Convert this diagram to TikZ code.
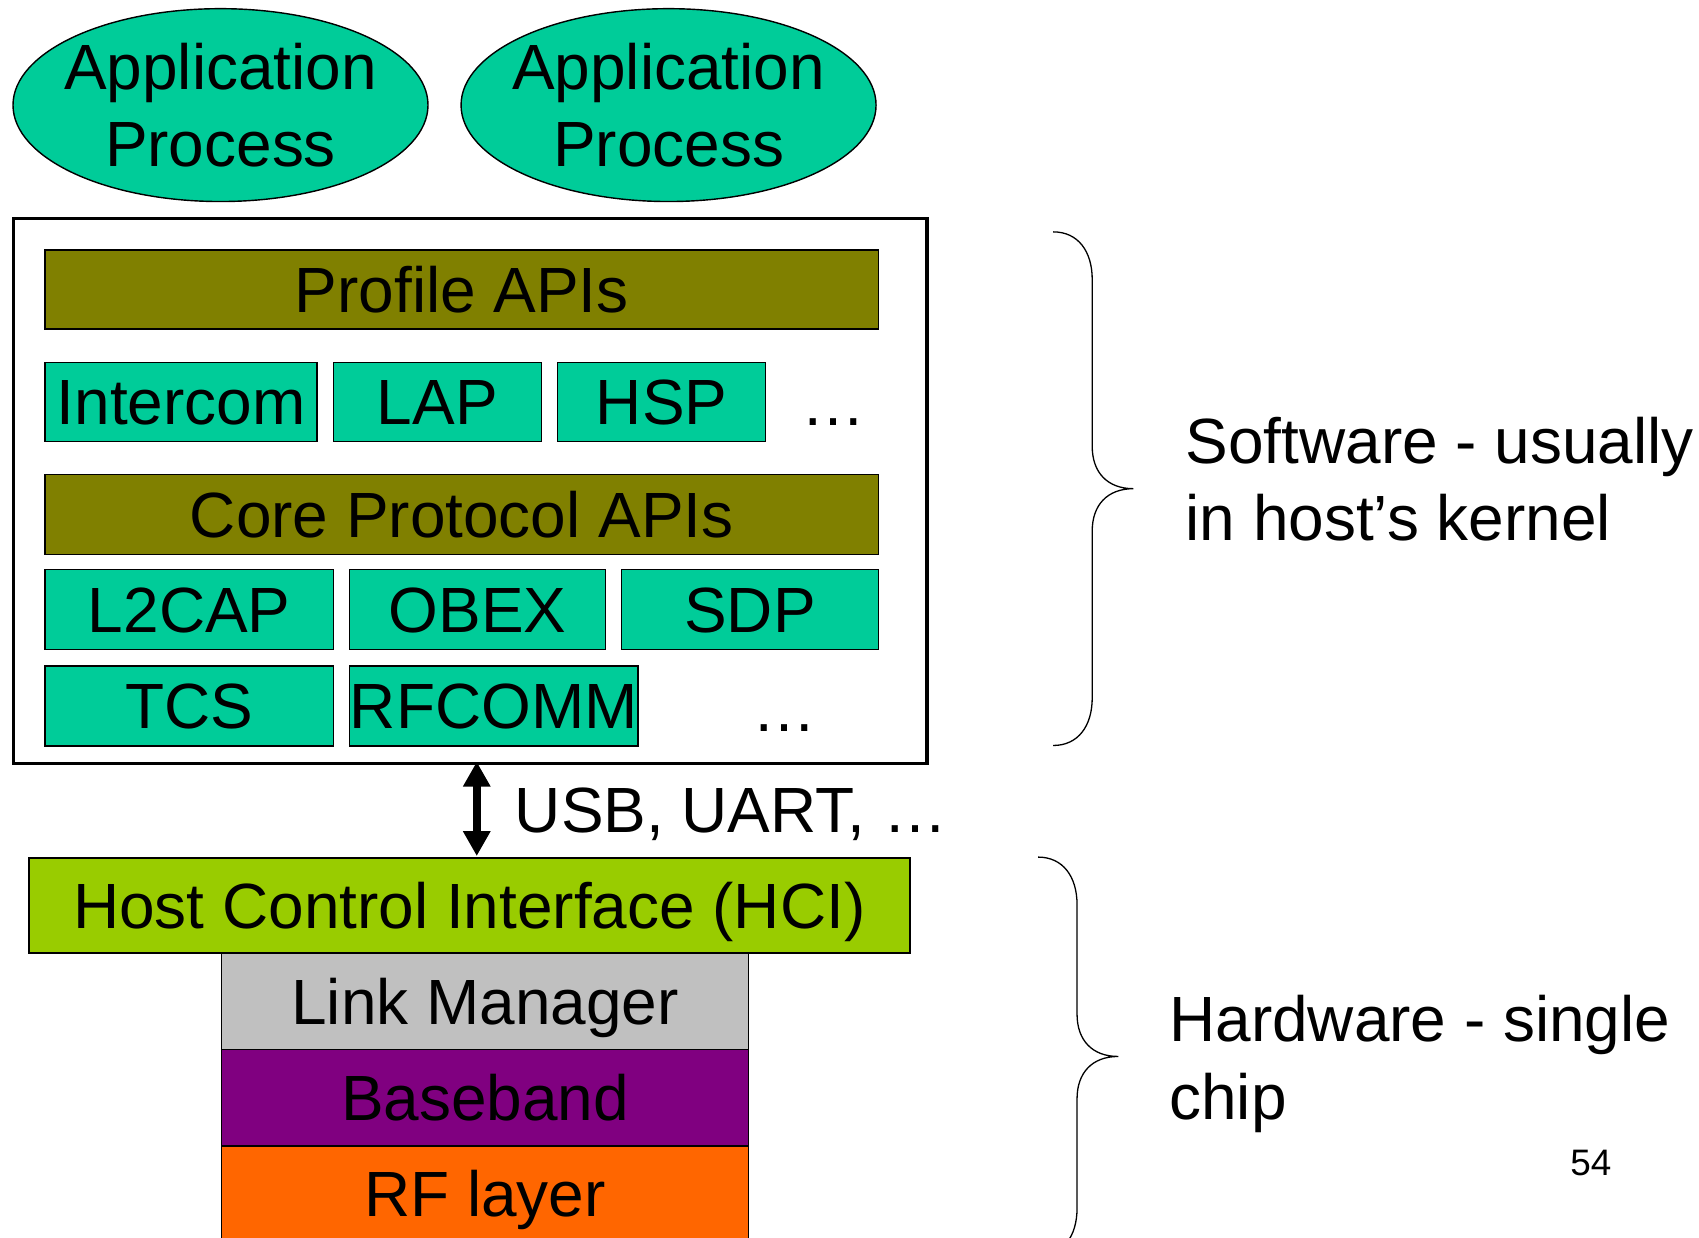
\documentclass[tikz,border=0pt]{standalone}
\usepackage{fontspec}
\setmainfont{Liberation Sans}
\usetikzlibrary{arrows.meta,shapes.geometric}

\definecolor{appgreen}{HTML}{00CC99}
\definecolor{apiolive}{HTML}{808000}
\definecolor{hcilime}{HTML}{99CC00}
\definecolor{lmgray}{HTML}{C0C0C0}
\definecolor{bbpurple}{HTML}{800080}
\definecolor{rforange}{HTML}{FF6600}

\tikzset{
  bigfont/.style={font=\fontsize{59}{71}\selectfont},
  layer/.style={draw=black, line width=1.3pt, inner sep=0pt, anchor=north west,
    bigfont, text height=42pt, text depth=0pt},
  proc/.style={ellipse, draw=black, line width=1.3pt, fill=appgreen, inner sep=0pt},
  brace/.style={draw=black, line width=1.2pt},
  sidetext/.style={inner sep=0pt, align=left},
  dblarrow/.style={line width=7pt, {Triangle[length=23pt,width=24pt]}-{Triangle[length=23pt,width=24pt]}},
}

\newcommand{\layerbox}[7]{% name, x, y, width, height, fill, text
  \node[layer, fill=#6, minimum width=#4pt, minimum height=#5pt] (#1) at (#2,#3) {#7};}

\begin{document}
\begin{tikzpicture}[x=1pt,y=-1pt]
\useasboundingbox (0,0) rectangle (1568,1142);
\clip (0,0) rectangle (1568,1142);
\fill[white] (0,0) rectangle (1568,1142);

% application processes
\node[proc, minimum width=383pt, minimum height=178pt] (app1) at (203.5,97) {};
\node[bigfont, align=center] (app1t) at (app1.center) {Application\\Process};
\node[proc, minimum width=383pt, minimum height=178pt] (app2) at (617,97) {};
\node[bigfont, align=center] (app2t) at (app2.center) {Application\\Process};

% host software stack
\node[draw=black, line width=3pt, inner sep=0pt, anchor=north west,
      minimum width=843pt, minimum height=503pt] (host) at (11,200) {};

\layerbox{profile}{41}{230}{769}{73}{apiolive}{Profile APIs}
\layerbox{intercom}{41}{334}{251}{73}{appgreen}{Intercom}
\layerbox{lap}{307}{334}{192}{73}{appgreen}{LAP}
\layerbox{hsp}{514}{334}{192}{73}{appgreen}{HSP}
\node[bigfont, anchor=base] (dots1) at (769,393) {…};
\layerbox{core}{41}{437}{769}{74}{apiolive}{Core Protocol APIs}
\layerbox{l2cap}{41}{525}{266}{74}{appgreen}{L2CAP}
\layerbox{obex}{322}{525}{236}{74}{appgreen}{OBEX}
\layerbox{sdp}{573}{525}{237}{74}{appgreen}{SDP}
\layerbox{tcs}{41}{614}{266}{74}{appgreen}{TCS}
\layerbox{rfcomm}{322}{614}{266}{74}{appgreen}{RFCOMM}
\node[bigfont, anchor=base] (dots2) at (724,675) {…};

% host controller
\layerbox{hci}{26}{791}{813}{88}{hcilime}{Host Control Interface (HCI)}
\layerbox{lm}{204}{879}{486}{89}{lmgray}{Link Manager}
\layerbox{bb}{204}{968}{486}{89}{bbpurple}{Baseband}
\layerbox{rf}{204}{1057}{486}{89}{rforange}{RF layer}

% transport between host and controller
\coordinate (busup) at (440,703);
\coordinate (busdown) at (440,790);
\draw[dblarrow] (busup) -- (busdown);
\node[bigfont, inner sep=0pt, anchor=base west] (bus) at (475,768) {USB, UART, …};

% braces with their labels
\draw[brace] (972,214) .. controls (995,214) and (1008,232) .. (1008,258)
  -- (1008,412) .. controls (1008,436) and (1022,451) .. (1046,451)
  .. controls (1022,451) and (1008,466) .. (1008,490)
  -- (1008,644) .. controls (1008,670) and (995,688) .. (972,688);
\node[bigfont, sidetext, anchor=west] (sw) at (1094,442) {Software - usually\\in host’s kernel};

\draw[brace] (958,791) .. controls (981,791) and (994,809) .. (994,835)
  -- (994,936) .. controls (994,960) and (1008,975) .. (1032,975)
  .. controls (1008,975) and (994,990) .. (994,1014)
  -- (994,1115) .. controls (994,1141) and (981,1159) .. (958,1159);
\node[font=\fontsize{59}{72}\selectfont, sidetext, anchor=west] (hw) at (1079,982) {Hardware - single\\chip};

\node[font=\fontsize{34}{40}\selectfont, inner sep=0pt, anchor=base west] (page) at (1449,1085) {54};
\end{tikzpicture}
\end{document}
